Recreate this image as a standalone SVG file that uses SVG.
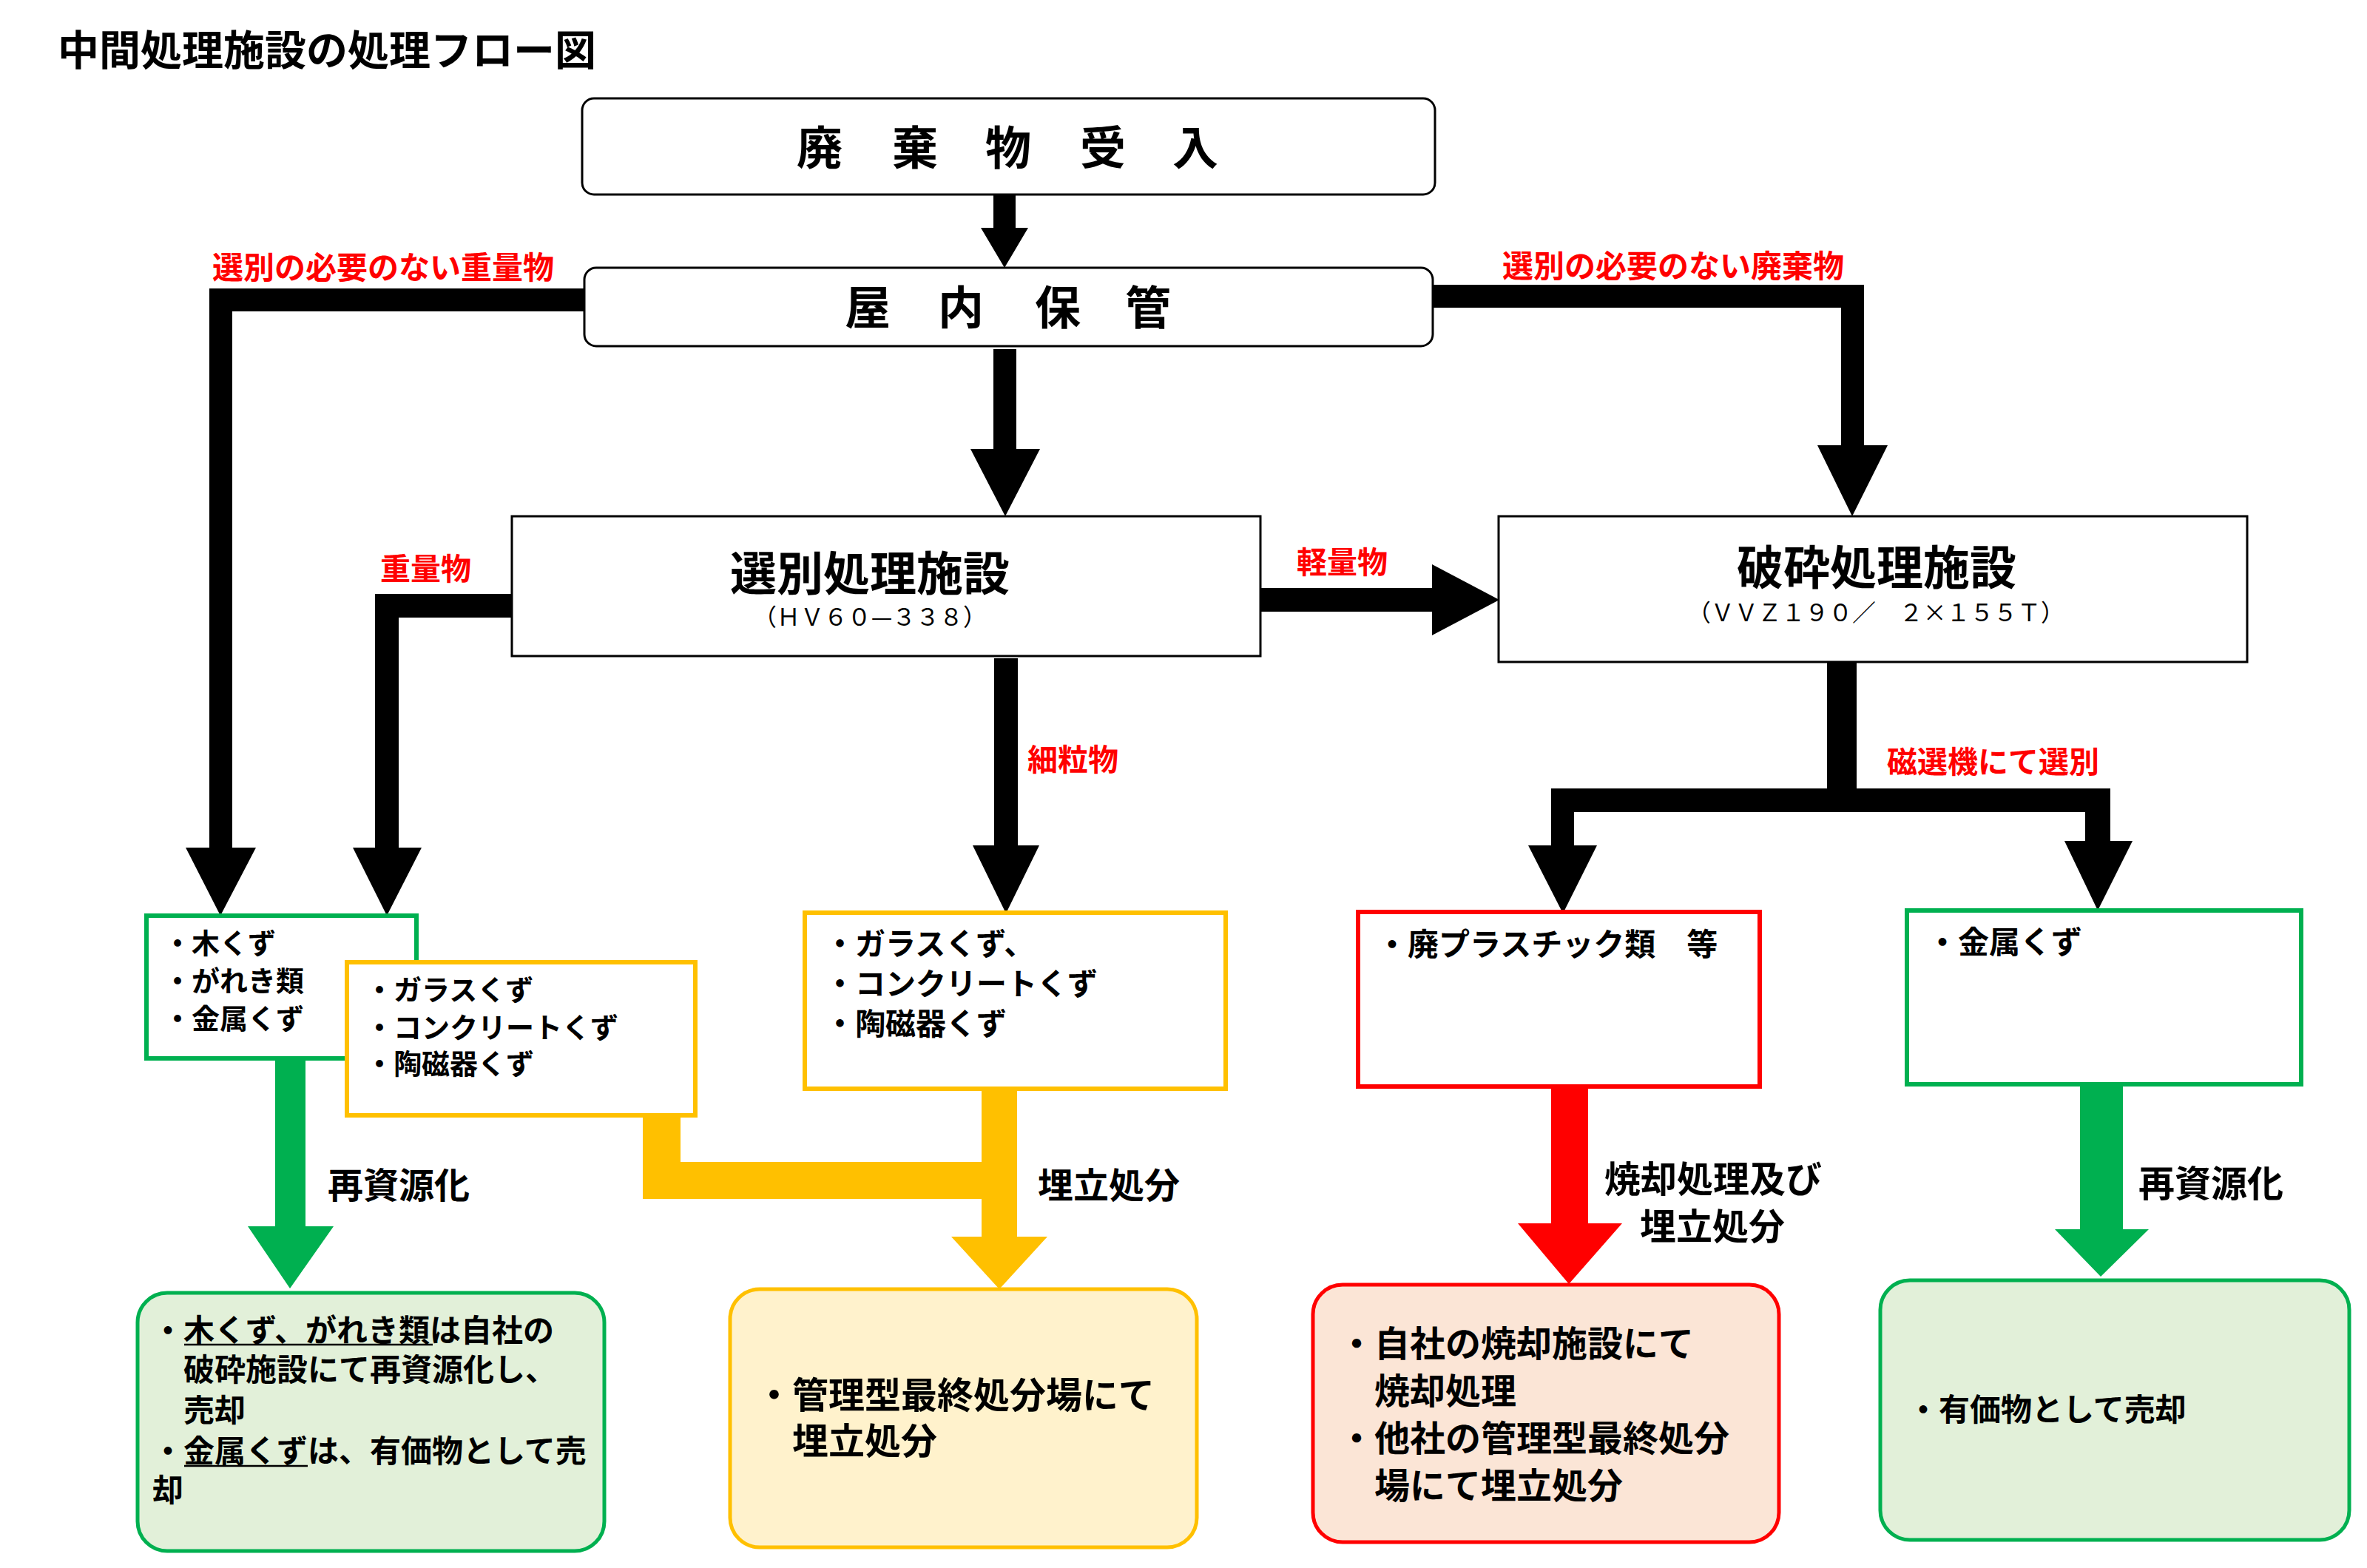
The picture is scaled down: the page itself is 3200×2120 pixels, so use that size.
<svg xmlns="http://www.w3.org/2000/svg" width="3200" height="2120" viewBox="0 0 3200 2120">
<style>
text{font-family:"Noto Sans CJK JP","Liberation Sans",sans-serif;font-weight:700;fill:#000}
.red{fill:#FF0000}
.sub{font-weight:400;font-size:32px}
.bx{fill:#fff;stroke:#000;stroke-width:3}
.gb{fill:#fff;stroke:#00B050;stroke-width:6}
.yb{fill:#fff;stroke:#FFC000;stroke-width:6}
.rb{fill:#fff;stroke:#FF0000;stroke-width:6}
.gr{fill:#E2F0D9;stroke:#00B050;stroke-width:5}
.yr{fill:#FFF2CC;stroke:#FFC000;stroke-width:5}
.rr{fill:#FBE5D6;stroke:#FF0000;stroke-width:5}
.blk{fill:#000}
.ul{stroke:#000;stroke-width:2.5}
</style>
<rect width="3200" height="2120" fill="#fff"/>
<text x="78" y="88" font-size="56">中間処理施設の処理フロー図</text>

<g id="connectors">
  <polygon class="blk" points="1343,263 1373,263 1373,308 1390,308 1358,362 1326,308 1343,308"/>
  <polygon class="blk" points="1343,472 1374,472 1374,607 1406,607 1359,698 1312,607 1343,607"/>
  <polygon class="blk" points="791,390 283,390 283,1146 251,1146 298,1238 346,1146 314,1146 314,421 791,421"/>
  <polygon class="blk" points="1937,385 2520,385 2520,602 2552,602 2504,698 2457,602 2489,602 2489,416 1937,416"/>
  <polygon class="blk" points="692,803 507,803 507,1146 477,1146 523,1238 570,1146 539,1146 539,835 692,835"/>
  <polygon class="blk" points="1704,795 1936,795 1936,763 2027,811 1936,859 1936,827 1704,827"/>
  <polygon class="blk" points="1344,890 1376,890 1376,1143 1405,1143 1360,1235 1315,1143 1344,1143"/>
  <polygon class="blk" points="2470,894 2510,894 2510,1066 2853,1066 2853,1137 2883,1137 2836,1231 2791,1137 2819,1137 2819,1098 2128,1098 2128,1143 2159,1143 2113,1235 2066,1143 2097,1143 2097,1066 2470,1066"/>
  <polygon fill="#00B050" points="372,1431 413,1431 413,1658 451,1658 392,1742 335,1658 372,1658"/>
  <polygon fill="#FFC000" points="869,1508 920,1508 920,1571 1327,1571 1327,1472 1375,1472 1375,1672 1416,1672 1351,1743 1286,1672 1327,1672 1327,1621 869,1621"/>
  <polygon fill="#FF0000" points="2097,1469 2147,1469 2147,1654 2193,1654 2121,1736 2052,1654 2097,1654"/>
  <polygon fill="#00B050" points="2812,1466 2870,1466 2870,1662 2905,1662 2840,1726 2778,1662 2812,1662"/>
  <text class="red" x="287" y="377" font-size="42">選別の必要のない重量物</text>
  <text class="red" x="2031" y="375" font-size="42">選別の必要のない廃棄物</text>
  <text class="red" x="514" y="784" font-size="41">重量物</text>
  <text class="red" x="1753" y="775" font-size="41">軽量物</text>
  <text class="red" x="1389" y="1042" font-size="41">細粒物</text>
  <text class="red" x="2551" y="1045" font-size="41">磁選機にて選別</text>
  <text x="443" y="1620" font-size="48">再資源化</text>
  <text x="1403" y="1620" font-size="48">埋立処分</text>
  <text x="2169" y="1612" font-size="49">焼却処理及び</text>
  <text x="2217" y="1676" font-size="49">埋立処分</text>
  <text x="2891" y="1618" font-size="49">再資源化</text>
</g>

<g id="n-ukeire">
  <rect class="bx" x="787" y="133" width="1153" height="130" rx="16"/>
  <text x="1077 1206 1332 1460 1585" y="223" font-size="62">廃棄物受入</text>
</g>
<g id="n-hokan">
  <rect class="bx" x="790" y="362" width="1147" height="106" rx="16"/>
  <text x="1142 1268 1399 1521" y="439" font-size="62">屋内保管</text>
</g>
<g id="n-senbetsu">
  <rect class="bx" x="692" y="698" width="1012" height="189"/>
  <text x="1176" y="798" font-size="63" text-anchor="middle">選別処理施設</text>
  <text class="sub" x="1018" y="846" textLength="316" lengthAdjust="spacingAndGlyphs">（ＨＶ６０—３３８）</text>
</g>
<g id="n-hasai">
  <rect class="bx" x="2026" y="698" width="1012" height="197"/>
  <text x="2537" y="790" font-size="63" text-anchor="middle">破砕処理施設</text>
  <text class="sub" x="2281" y="840" textLength="510" lengthAdjust="spacingAndGlyphs">（ＶＶＺ１９０／　２×１５５Ｔ）</text>
</g>
<g id="n-green1">
  <rect class="gb" x="198" y="1238" width="365" height="193"/>
  <text x="221" y="1289" font-size="38">・木くず</text>
  <text x="221" y="1340" font-size="38">・がれき類</text>
  <text x="221" y="1391" font-size="38">・金属くず</text>
</g>
<g id="n-yellow1">
  <rect class="yb" x="469" y="1301" width="471" height="207"/>
  <text x="494" y="1352" font-size="38">・ガラスくず</text>
  <text x="494" y="1403" font-size="38">・コンクリートくず</text>
  <text x="494" y="1452" font-size="38">・陶磁器くず</text>
</g>
<g id="n-yellow2">
  <rect class="yb" x="1088" y="1234" width="569" height="238"/>
  <text x="1115" y="1291" font-size="41">・ガラスくず、</text>
  <text x="1115" y="1345" font-size="41">・コンクリートくず</text>
  <text x="1115" y="1399" font-size="41">・陶磁器くず</text>
</g>
<g id="n-red1">
  <rect class="rb" x="1836" y="1233" width="543" height="236"/>
  <text x="1861" y="1292" font-size="42">・廃プラスチック類　等</text>
</g>
<g id="n-green2">
  <rect class="gb" x="2578" y="1231" width="533" height="235"/>
  <text x="2605" y="1289" font-size="42">・金属くず</text>
</g>
<g id="n-green-out1">
  <rect class="gr" x="186" y="1748" width="631" height="349" rx="40"/>
  <text x="206" y="1814" font-size="42">・木くず、がれき類は自社の</text>
  <line class="ul" x1="249" y1="1818" x2="585" y2="1818"/>
  <text x="248" y="1867" font-size="42">破砕施設にて再資源化し、</text>
  <text x="248" y="1922" font-size="42">売却</text>
  <text x="206" y="1977" font-size="42">・金属くずは、有価物として売</text>
  <line class="ul" x1="249" y1="1982" x2="416" y2="1982"/>
  <text x="206" y="2030" font-size="42">却</text>
</g>
<g id="n-yellow-out">
  <rect class="yr" x="987" y="1743" width="631" height="349" rx="40"/>
  <text x="1022" y="1904" font-size="49">・管理型最終処分場にて</text>
  <text x="1071" y="1966" font-size="49">埋立処分</text>
</g>
<g id="n-red-out">
  <rect class="rr" x="1775" y="1737" width="630" height="348" rx="40"/>
  <text x="1810" y="1834" font-size="48">・自社の焼却施設にて</text>
  <text x="1858" y="1898" font-size="48">焼却処理</text>
  <text x="1810" y="1962" font-size="48">・他社の管理型最終処分</text>
  <text x="1858" y="2026" font-size="48">場にて埋立処分</text>
</g>
<g id="n-green-out2">
  <rect class="gr" x="2542" y="1731" width="634" height="351" rx="40"/>
  <text x="2579" y="1921" font-size="42">・有価物として売却</text>
</g>
</svg>
